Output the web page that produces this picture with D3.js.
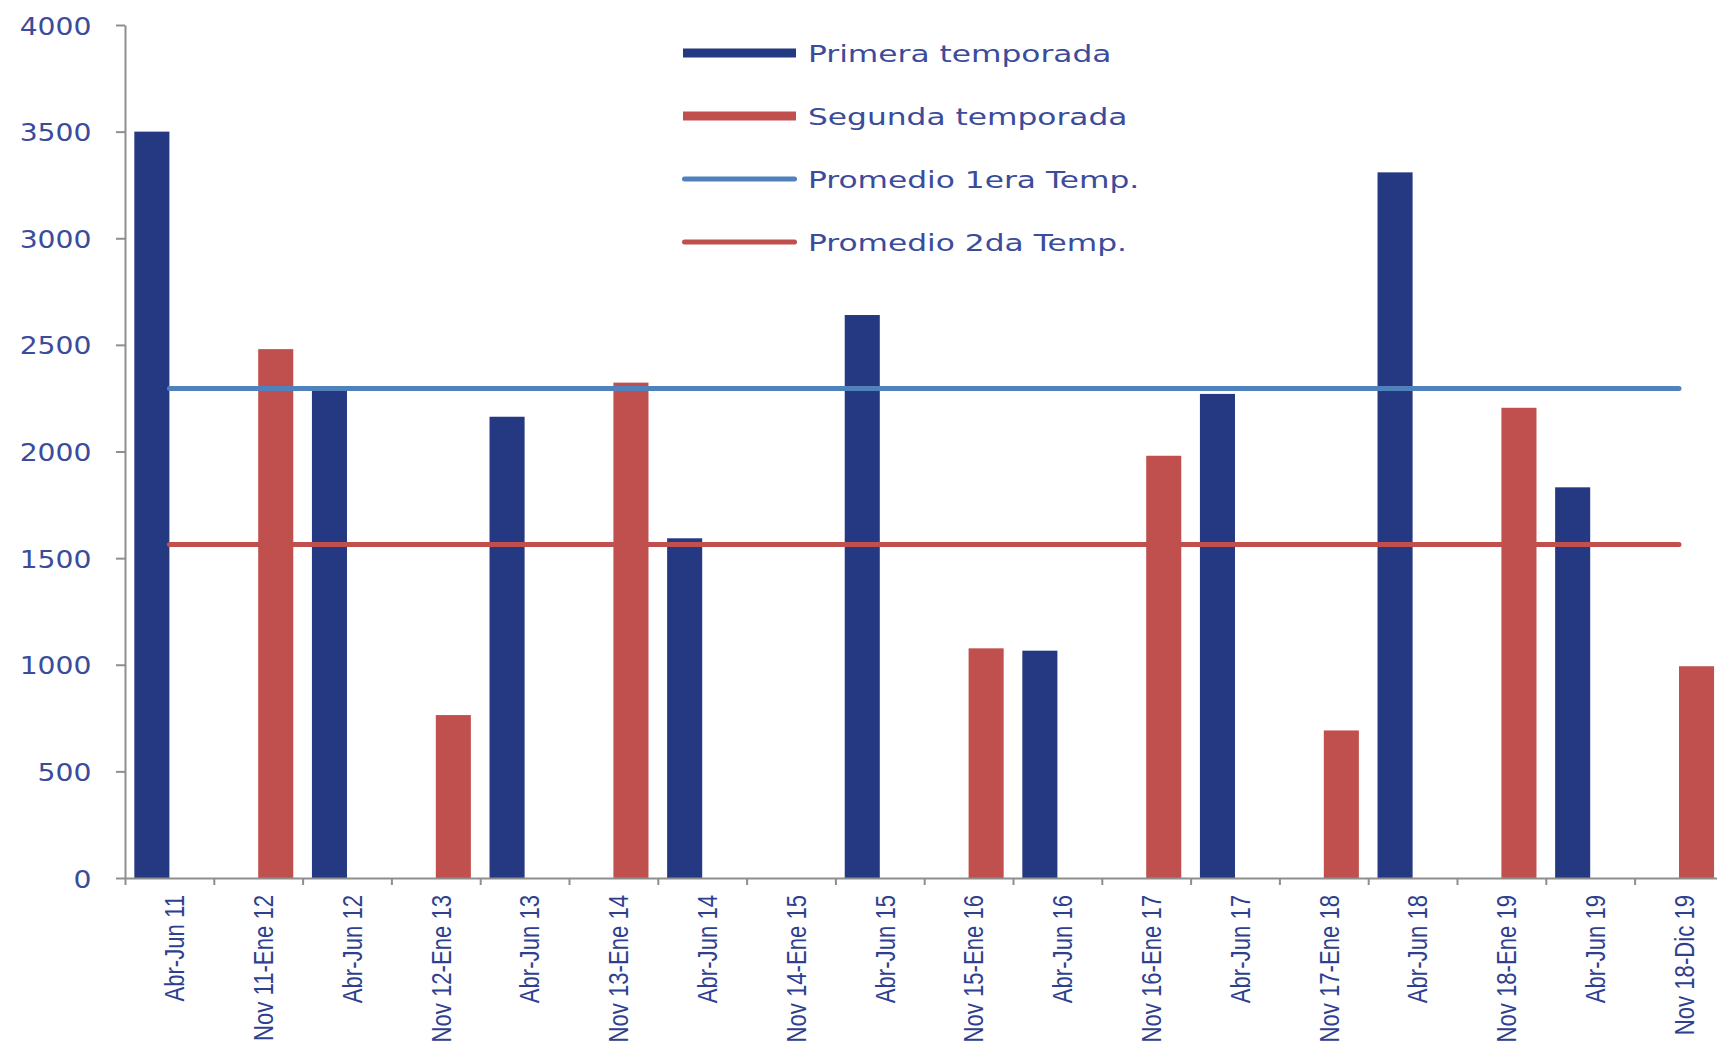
<!DOCTYPE html>
<html>
<head>
<meta charset="utf-8">
<script src="https://cdn.jsdelivr.net/npm/d3@7/dist/d3.min.js"></script>
<style>
  body { margin: 0; background: #ffffff; }
  svg { display: block; }
</style>
</head>
<body>
<svg id="chart" width="1717" height="1052"></svg>
<script>
// Seasons on the horizontal axis
const categories = [
  "Abr-Jun 11", "Nov 11-Ene 12", "Abr-Jun 12", "Nov 12-Ene 13", "Abr-Jun 13",
  "Nov 13-Ene 14", "Abr-Jun 14", "Nov 14-Ene 15", "Abr-Jun 15", "Nov 15-Ene 16",
  "Abr-Jun 16", "Nov 16-Ene 17", "Abr-Jun 17", "Nov 17-Ene 18", "Abr-Jun 18",
  "Nov 18-Ene 19", "Abr-Jun 19", "Nov 18-Dic 19"
];

// First season (Apr-Jun) values; null where the season does not apply
const primera = [3500, null, 2285, null, 2163, null, 1593, null, 2640, null,
                 1066, null, 2270, null, 3309, null, 1832, null];

// Second season (Nov-Jan) values; Nov 14-Ene 15 had no season
const segunda = [null, 2480, null, 764, null, 2323, null, null, null, 1077,
                 null, 1980, null, 692, null, 2205, null, 993];

const yTicks = [0, 500, 1000, 1500, 2000, 2500, 3000, 3500, 4000];

const seriesNames = ["Primera temporada", "Segunda temporada",
                     "Promedio 1era Temp.", "Promedio 2da Temp."];

// Averages of each season (missing seasons are skipped)
const avgPrimera = d3.mean(primera);
const avgSegunda = d3.mean(segunda);

const colors = {
  primera: "#253882",
  segunda: "#c0504d",
  avg1: "#4f81bd",
  avg2: "#c0504d",
  axis: "#8e8e8e",
  tickText: "#3b4c9b",
  catText: "#2f3f8f"
};

const svg = d3.select("#chart");
svg.append("rect").attr("width", 1717).attr("height", 1052).attr("fill", "#ffffff");

const left = 125, step = 88.8;
const right = left + categories.length * step;
const yBottom = 878, yTop = 25;

const x0 = d3.scaleBand()
  .domain(categories)
  .range([left, right])
  .paddingInner(0.21)
  .paddingOuter(0.105);

const x1 = d3.scaleBand()
  .domain(["primera", "segunda"])
  .range([0, x0.bandwidth()]);

const y = d3.scaleLinear().domain([0, 4000]).range([yBottom, yTop]);

// Category boundaries for the x-axis tick marks
const xEdges = d3.scaleLinear().domain([0, categories.length]).range([left, right]);

// Bars
const rows = categories.map((c, i) => ({ cat: c, primera: primera[i], segunda: segunda[i] }));
const groups = svg.append("g").selectAll("g")
  .data(rows)
  .join("g")
  .attr("transform", d => `translate(${x0(d.cat)},0)`);

groups.selectAll("rect")
  .data(d => ["primera", "segunda"]
    .filter(k => d[k] != null)
    .map(k => ({ key: k, value: d[k] })))
  .join("rect")
  .attr("x", d => x1(d.key))
  .attr("width", x1.bandwidth())
  .attr("y", d => y(d.value))
  .attr("height", d => y(0) - y(d.value))
  .attr("fill", d => colors[d.key]);

// Y axis
const yAxis = svg.append("g")
  .attr("transform", `translate(${left},0)`)
  .call(d3.axisLeft(y).tickValues(yTicks).tickSize(9).tickSizeOuter(0).tickFormat(d3.format("d")));
yAxis.select(".domain").attr("stroke", colors.axis).attr("stroke-width", 2);
yAxis.selectAll(".tick line").attr("stroke", colors.axis).attr("stroke-width", 2);
const yScaleX = 1.13;
yAxis.selectAll(".tick text")
  .attr("font-family", "DejaVu Sans, sans-serif")
  .attr("font-size", 25)
  .attr("fill", colors.tickText)
  .attr("x", -33.5 / yScaleX)
  .attr("dy", "0.36em")
  .attr("transform", `scale(${yScaleX},1)`);

// X axis: line with ticks at category boundaries
const xAxis = svg.append("g")
  .attr("transform", `translate(0,${yBottom})`)
  .call(d3.axisBottom(xEdges).ticks(categories.length).tickSize(7).tickSizeOuter(0).tickFormat(""));
xAxis.select(".domain").attr("stroke", colors.axis).attr("stroke-width", 2);
xAxis.selectAll(".tick line").attr("stroke", colors.axis).attr("stroke-width", 2);

// X axis category labels, rotated
const labelScale = 0.82;
const xLabels = svg.append("g")
  .attr("transform", `translate(0,${yBottom})`)
  .call(d3.axisBottom(x0).tickSize(0));
xLabels.select(".domain").remove();
xLabels.selectAll(".tick text")
  .attr("font-family", "Liberation Sans, Arial, sans-serif")
  .attr("font-size", 27)
  .attr("fill", colors.catText)
  .attr("text-anchor", "end")
  .attr("transform", `rotate(-90) scale(${labelScale},1)`)
  .attr("x", -17 / labelScale)
  .attr("y", 5)
  .attr("dy", "0.36em");

// Average lines across all categories
const avgLine = d3.line()
  .x(c => x0(c) + x0.bandwidth() / 2);

svg.append("path")
  .attr("d", avgLine.y(() => y(avgPrimera))(categories))
  .attr("fill", "none")
  .attr("stroke", colors.avg1)
  .attr("stroke-width", 5)
  .attr("stroke-linecap", "round");

svg.append("path")
  .attr("d", avgLine.y(() => y(avgSegunda))(categories))
  .attr("fill", "none")
  .attr("stroke", colors.avg2)
  .attr("stroke-width", 5)
  .attr("stroke-linecap", "round");

// Legend
const legendItems = [
  { name: seriesNames[0], color: colors.primera, type: "bar" },
  { name: seriesNames[1], color: colors.segunda, type: "bar" },
  { name: seriesNames[2], color: colors.avg1, type: "line" },
  { name: seriesNames[3], color: colors.avg2, type: "line" }
];
const legend = svg.append("g");
const legendRow = legend.selectAll("g")
  .data(legendItems)
  .join("g")
  .attr("transform", (d, i) => `translate(683,${53 + i * 63})`);

legendRow.filter(d => d.type === "bar")
  .append("rect")
  .attr("x", 0).attr("y", -4.5)
  .attr("width", 113).attr("height", 9)
  .attr("fill", d => d.color);

legendRow.filter(d => d.type === "line")
  .append("line")
  .attr("x1", 1.5).attr("x2", 111.5)
  .attr("y1", 0).attr("y2", 0)
  .attr("stroke", d => d.color)
  .attr("stroke-width", 5)
  .attr("stroke-linecap", "round");

legendRow.append("text")
  .attr("transform", "translate(125,8.5) scale(1.36,1)")
  .attr("font-family", "DejaVu Sans, sans-serif")
  .attr("font-size", 23)
  .attr("fill", colors.tickText)
  .text(d => d.name);
</script>
</body>
</html>
